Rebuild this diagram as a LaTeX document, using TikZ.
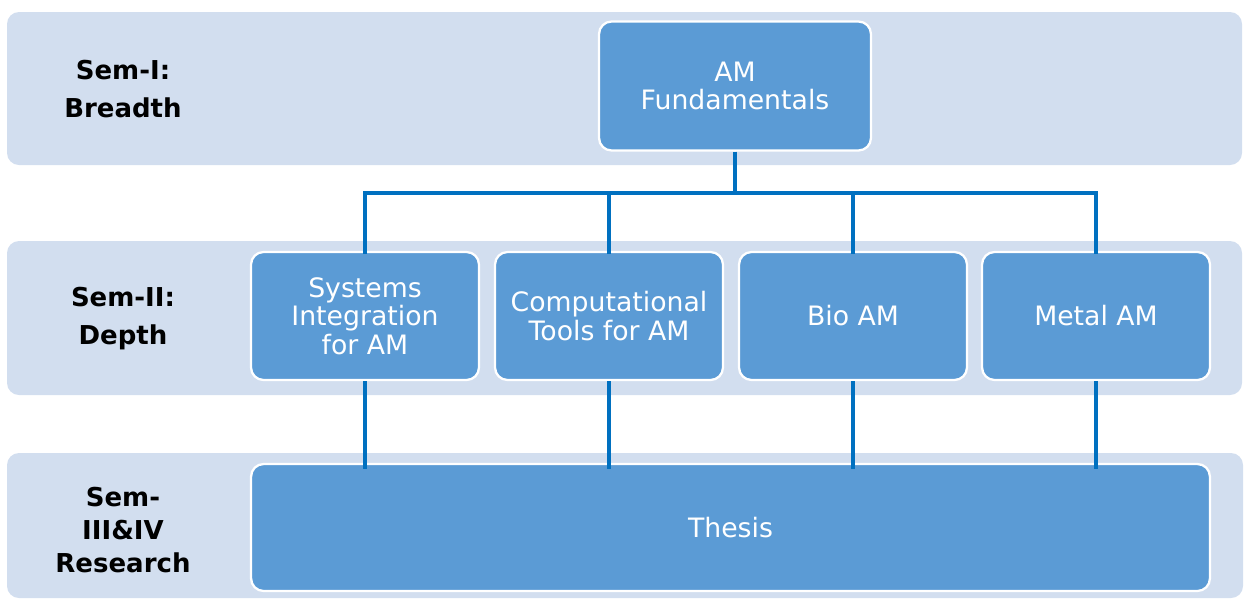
\documentclass[tikz,border=0pt]{standalone}
\usepackage{fontspec}
\setmainfont{DejaVu Sans}
\definecolor{bandblue}{HTML}{D2DEEF}
\definecolor{boxblue}{HTML}{5B9BD5}
\definecolor{linkblue}{HTML}{0070C0}
\tikzset{
  band/.style={fill=bandblue, rounded corners=0.24cm},
  course/.style={draw=white, line width=1.3pt, fill=boxblue, rounded corners=0.25cm,
    text=white, align=center, font=\fontsize{15.2}{16.2}\selectfont, inner sep=0pt},
  semlabel/.style={align=center, font=\fontsize{14.8}{21.6}\selectfont\bfseries},
  link/.style={draw=linkblue, line width=2.6pt}
}
\begin{document}
\begin{tikzpicture}[x=0.02cm,y=-0.02cm]
    \useasboundingbox (0,0) rectangle (1247,599);
    % background bands
    \fill[band] (7,12) rectangle (1242,165);
    \fill[band] (7,241) rectangle (1242,395);
    \fill[band] (7,453) rectangle (1243,598);
    % semester labels
    \node[semlabel] (sem1) at (123,89) {Sem-I:\\Breadth};
    \node[semlabel] (sem2) at (123,319) {Sem-II:\\Depth};
    \node[semlabel, font=\fontsize{14.8}{18.8}\selectfont\bfseries] (sem3) at (123,530) {Sem-\\III\&IV\\Research};
    % courses
    \node[course, minimum width=5.44cm, minimum height=2.58cm] (amf) at (735,86) {AM\\Fundamentals};
    \node[course, minimum width=4.56cm, minimum height=2.56cm] (sys) at (365,316) {Systems\\Integration\\for AM};
    \node[course, minimum width=4.56cm, minimum height=2.56cm] (comp) at (609,316) {Computational\\Tools for AM};
    \node[course, minimum width=4.56cm, minimum height=2.56cm] (bio) at (853,316) {Bio AM};
    \node[course, minimum width=4.56cm, minimum height=2.56cm] (metal) at (1096,316) {Metal AM};
    \node[course, minimum width=19.18cm, minimum height=2.54cm] (thesis) at (730.5,527.5) {Thesis};
    % connectors
    \coordinate (hub) at (735,193);
    \draw[link] (amf.south) -- (hub);
    \draw[link, line cap=rect] (sys.north |- hub) -- (metal.north |- hub);
    \foreach \c in {sys,comp,bio,metal} {
        \draw[link] (\c.north |- hub) -- ([yshift=-0.06cm]\c.north);
        \draw[link] (\c.south) -- ([yshift=-0.12cm]\c.south |- thesis.north);
    }
\end{tikzpicture}
\end{document}
